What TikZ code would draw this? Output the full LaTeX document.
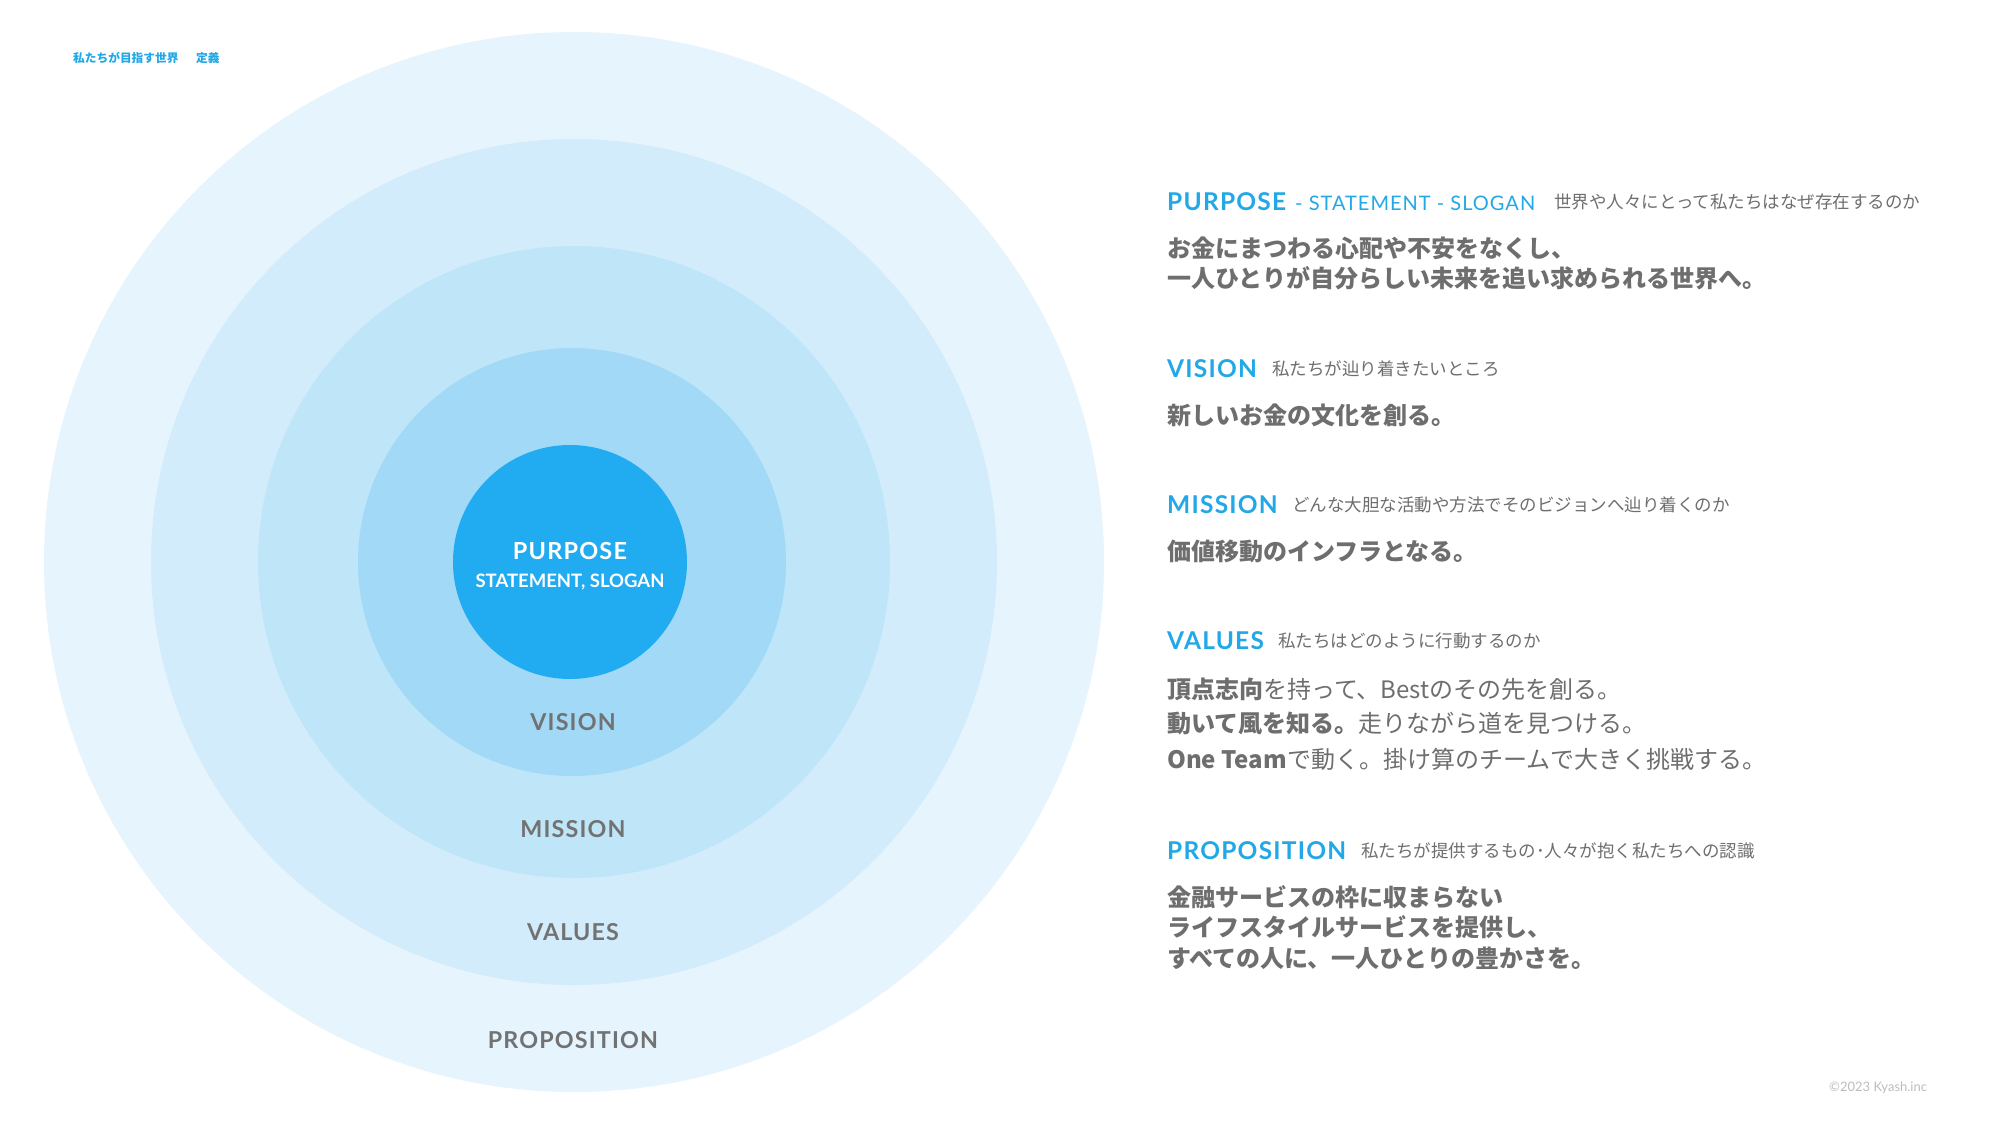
\documentclass[tikz,border=0pt]{standalone}
\usepackage{fontspec}
\newfontfamily\lat{Lato}
\newfontfamily\latsp[LetterSpace=5]{Lato}
\newfontfamily\cjk{Noto Sans CJK JP}
\definecolor{ringA}{HTML}{E6F4FD}
\definecolor{ringB}{HTML}{D2ECFC}
\definecolor{ringC}{HTML}{BFE5F9}
\definecolor{ringD}{HTML}{A1D9F6}
\definecolor{ringE}{HTML}{21ABF0}
\definecolor{cyanT}{HTML}{22A8E6}
\definecolor{grayT}{HTML}{6E6E6E}
\definecolor{grayL}{HTML}{727272}
\definecolor{grayC}{HTML}{BDBDBD}
\begin{document}
\begin{tikzpicture}[x=1pt,y=-1pt,
  ring/.style={circle, inner sep=0pt, draw=none},
  head/.style={anchor=base west, inner sep=0pt, text=cyanT, font=\latsp\bfseries\fontsize{24.5}{30}\selectfont},
  headsub/.style={anchor=base west, inner sep=0pt, text=cyanT, font=\latsp\fontsize{20}{24}\selectfont},
  sub/.style={anchor=base west, inner sep=0pt, text=grayT, font=\cjk\fontsize{17.5}{20}\selectfont},
  body/.style={anchor=base west, inner sep=0pt, text=grayT, font=\cjk\bfseries\fontsize{24}{29}\selectfont},
  bodyr/.style={anchor=base west, inner sep=0pt, text=grayT, font=\cjk\fontsize{24}{29}\selectfont},
  clabel/.style={inner sep=0pt, text=grayL, font=\latsp\bfseries\fontsize{23.3}{30}\selectfont}]
\useasboundingbox[fill=white] (0,0) rectangle (2000,1125);

% concentric circles
\node[ring, fill=ringA, minimum size=1060pt] (rA) at (574,562) {};
\node[ring, fill=ringB, minimum size=846pt] (rB) at (574,562) {};
\node[ring, fill=ringC, minimum size=632pt] (rC) at (574,562) {};
\node[ring, fill=ringD, minimum size=428pt] (rD) at (572,562) {};
\node[ring, fill=ringE, minimum size=234pt] (rE) at (570,562) {};

% circle labels
\node[inner sep=0pt, text=white, font=\latsp\bfseries\fontsize{23.5}{28}\selectfont] (cP) at (570,551) {PURPOSE};
\node[inner sep=0pt, text=white, font=\lat\bfseries\fontsize{18.5}{22}\selectfont] (cS) at (570,582) {STATEMENT, SLOGAN};
\node[clabel] (cV) at (573,722) {VISION};
\node[clabel] (cM) at (573,829) {MISSION};
\node[clabel] (cVa) at (573,932) {VALUES};
\node[clabel] (cPr) at (573,1040) {PROPOSITION};

% top-left title
\node[anchor=west, inner sep=0pt, text=cyanT, font=\cjk\bfseries\fontsize{11.7}{14}\selectfont] (tt1) at (73,58) {私たちが目指す世界};
\node[anchor=west, inner sep=0pt, text=cyanT, font=\cjk\bfseries\fontsize{11.7}{14}\selectfont] (tt2) at (196,58) {定義};

% PURPOSE
\node[head] (hP) at (1167,210) {PURPOSE};
\node[headsub] (hPs) at (1295,210) {- STATEMENT - SLOGAN};
\node[sub] (sP) at (1554,208) {世界や人々にとって私たちはなぜ存在するのか};
\node[body] (bP1) at (1167,257) {お金にまつわる心配や不安をなくし、};
\node[body] (bP2) at (1167,287) {一人ひとりが自分らしい未来を追い求められる世界へ。};

% VISION
\node[head] (hV) at (1167,377) {VISION};
\node[sub] (sV) at (1272,375) {私たちが辿り着きたいところ};
\node[body] (bV) at (1167,424) {新しいお金の文化を創る。};

% MISSION
\node[head] (hM) at (1167,513) {MISSION};
\node[sub] (sM) at (1292,511) {どんな大胆な活動や方法でそのビジョンへ辿り着くのか};
\node[body] (bM) at (1167,560) {価値移動のインフラとなる。};

% VALUES
\node[head] (hVa) at (1167,649) {VALUES};
\node[sub] (sVa) at (1278,647) {私たちはどのように行動するのか};
\node[bodyr] (bVa1) at (1167,698) {{\bfseries 頂点志向}を持って、Bestのその先を創る。};
\node[bodyr] (bVa2) at (1167,732) {{\bfseries 動いて風を知る。}走りながら道を見つける。};
\node[bodyr] (bVa3) at (1167,768) {{\bfseries One Team}で動く。掛け算のチームで大きく挑戦する。};

% PROPOSITION
\node[head] (hPr) at (1167,859) {PROPOSITION};
\node[sub] (sPr) at (1361,857) {私たちが提供するもの･人々が抱く私たちへの認識};
\node[body] (bPr1) at (1167,906) {金融サービスの枠に収まらない};
\node[body] (bPr2) at (1167,936) {ライフスタイルサービスを提供し、};
\node[body] (bPr3) at (1167,967) {すべての人に、一人ひとりの豊かさを。};

% copyright
\node[anchor=west, inner sep=0pt, text=grayC, font=\lat\fontsize{13}{15}\selectfont] (copy) at (1829,1088) {©2023 Kyash.inc};
\end{tikzpicture}
\end{document}
